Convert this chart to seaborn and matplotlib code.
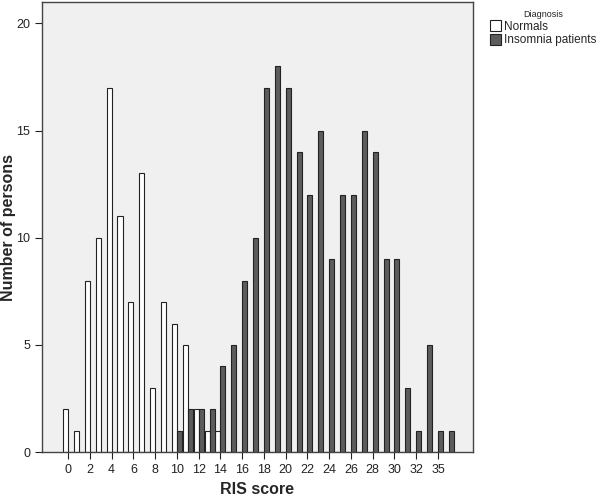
import pandas as pd
import numpy as np
import matplotlib
matplotlib.use("Agg")
import matplotlib.pyplot as plt
import seaborn as sns

# RIS score categories (34 is absent in the data)
scores = list(range(0, 34)) + [35, 36]
normals = [2, 1, 8, 10, 17, 11, 7, 13, 3, 7, 6, 5, 2, 1, 1,
           0, 0, 0, 0, 0, 0, 0, 0, 0, 0, 0, 0, 0, 0, 0, 0, 0, 0, 0, 0, 0]
insomnia = [0, 0, 0, 0, 0, 0, 0, 0, 0, 0, 1, 2, 2, 2, 4, 5, 8, 10, 17, 18,
            17, 14, 12, 15, 9, 12, 12, 15, 14, 9, 9, 3, 1, 5, 1, 1]
groups = ["Normals", "Insomnia patients"]

df = pd.DataFrame({
    "score": [str(s) for s in scores] * 2,
    "count": normals + insomnia,
    "Diagnosis": [groups[0]] * len(scores) + [groups[1]] * len(scores),
})

sns.set_style("white")
plt.rcParams["font.family"] = ["Liberation Sans", "DejaVu Sans"]

fig = plt.figure(figsize=(6, 4.98), dpi=100)
ax = fig.add_axes([0.07, 0.092, 0.718, 0.904])
ax.set_facecolor("#f0f0f0")

sns.barplot(data=df, x="score", y="count", hue="Diagnosis",
            order=[str(s) for s in scores], hue_order=groups,
            palette={"Normals": "white", "Insomnia patients": "#5c5c5c"},
            width=0.92, gap=0, edgecolor="#222222", linewidth=0.8,
            errorbar=None, ax=ax)

ax.set_xlim(-2.4, 37.2)
ax.set_ylim(0, 21)
ax.set_yticks([0, 5, 10, 15, 20])
ax.set_xticks(range(0, len(scores), 2))
ax.set_xticklabels([str(scores[i]) for i in range(0, len(scores), 2)])
ax.tick_params(axis="both", direction="out", length=5, width=0.8,
               labelsize=9, colors="#222222", bottom=True, left=True)

for sp in ax.spines.values():
    sp.set_color("#444444")
    sp.set_linewidth(1.0)

ax.set_xlabel("RIS score", fontsize=11.5, fontweight="bold")
ax.set_ylabel("Number of persons", fontsize=11.5, fontweight="bold")
ax.xaxis.set_label_coords(0.5, -0.066)
ax.yaxis.set_label_coords(-0.06, 0.5)

ax.legend(title="Diagnosis", loc="upper left", bbox_to_anchor=(1.02, 1.0),
          frameon=False, fontsize=8.5, title_fontsize=6.5,
          handlelength=1.0, handleheight=1.0, handletextpad=0.2,
          labelspacing=0.1, borderaxespad=0.3)

fig.savefig("out.png", dpi=100)
